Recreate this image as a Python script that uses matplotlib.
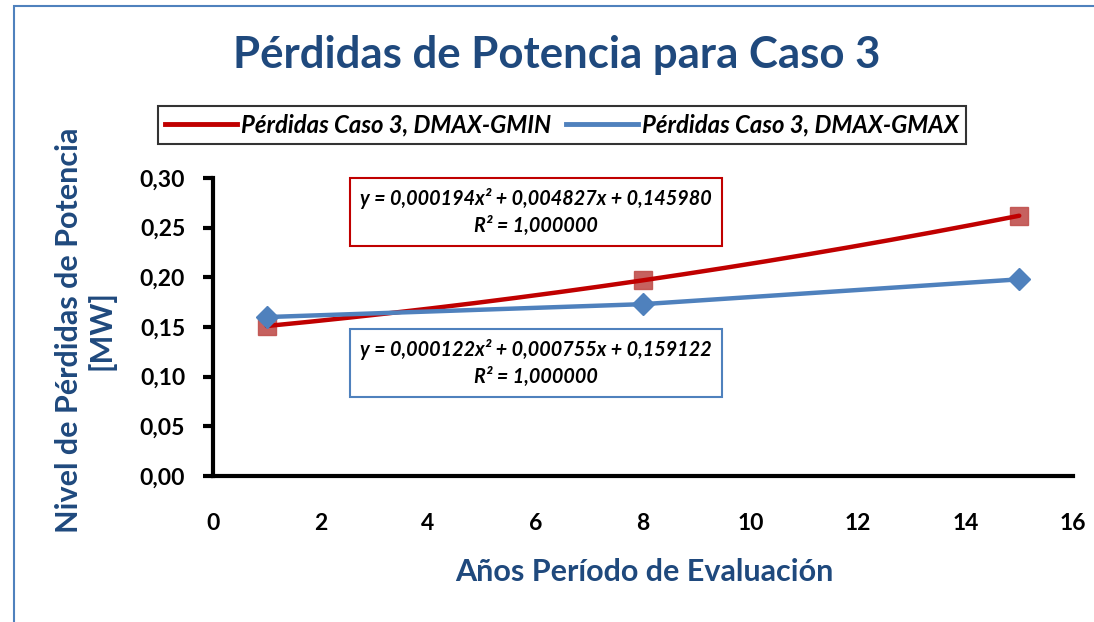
import numpy as np
import matplotlib
matplotlib.use("Agg")
import matplotlib.pyplot as plt
from matplotlib.patches import Rectangle
from matplotlib.lines import Line2D

plt.rcParams['font.family'] = ['Lato', 'DejaVu Sans']

# Data
years = [1, 8, 15]
loss_gmin = [0.151, 0.197, 0.262]   # DMAX-GMIN
loss_gmax = [0.160, 0.173, 0.198]   # DMAX-GMAX

# Quadratic trend coefficients (a, b, c) for y = a x^2 + b x + c
coef_gmin = [0.000194, 0.004827, 0.145980]
coef_gmax = [0.000122, 0.000755, 0.159122]

x_ticks = [0, 2, 4, 6, 8, 10, 12, 14, 16]
y_ticks = [0.00, 0.05, 0.10, 0.15, 0.20, 0.25, 0.30]

title = "Pérdidas de Potencia para Caso 3"
label_gmin = "Pérdidas Caso 3, DMAX-GMIN"
label_gmax = "Pérdidas Caso 3, DMAX-GMAX"
xlabel = "Años Período de Evaluación"
ylabel = "Nivel de Pérdidas de Potencia\n[MW]"

navy = "#1f497d"
red_line = "#c00000"
red_marker = "#c0504d"
blue = "#4f81bd"

fig = plt.figure(figsize=(10.94, 6.22), dpi=100)
W, H = 1094, 622

# Chart frame
fig.patches.append(Rectangle((14 / W, -0.1), 1.2, 1 - 6 / H + 0.1,
                             transform=fig.transFigure, fill=False,
                             edgecolor=blue, linewidth=1.5))

ax = fig.add_axes([213 / W, 1 - 476 / H, (1073 - 213) / W, (476 - 178) / H])

# Trend curve and points, DMAX-GMIN
xs = np.linspace(years[0], years[-1], 200)
ax.plot(xs, np.polyval(coef_gmin, xs), color=red_line, lw=3.2, zorder=3,
        solid_capstyle='round')
ax.plot(years, loss_gmin, linestyle='none', marker='s', markersize=13,
        color=red_marker, alpha=0.9, zorder=2)

# Series line, DMAX-GMAX
ax.plot(years, loss_gmax, color=blue, lw=3.2, marker='D', markersize=11,
        markerfacecolor=blue, markeredgecolor=blue, zorder=4)

ax.set_xlim(x_ticks[0], x_ticks[-1])
ax.set_ylim(y_ticks[0], y_ticks[-1])
ax.set_xticks(x_ticks)
ax.set_xticklabels([str(v) for v in x_ticks])
ax.set_yticks(y_ticks)
ax.set_yticklabels([f"{v:.2f}".replace('.', ',') for v in y_ticks])

for s in ['top', 'right']:
    ax.spines[s].set_visible(False)
for s in ['left', 'bottom']:
    ax.spines[s].set_linewidth(3)
    ax.spines[s].set_color('black')

ax.tick_params(axis='y', direction='out', length=7, width=3, pad=13,
               labelsize=16.5)
ax.tick_params(axis='x', length=0, pad=27, labelsize=16.5)
for lab in ax.get_xticklabels() + ax.get_yticklabels():
    lab.set_fontweight('bold')

# Equation boxes
def fmt(v):
    return f"{v:.6f}".replace('.', ',')

eq_gmin = (f"y = {fmt(coef_gmin[0])}x² + {fmt(coef_gmin[1])}x + {fmt(coef_gmin[2])}\n"
           f"R² = {fmt(1.0)}")
eq_gmax = (f"y = {fmt(coef_gmax[0])}x² + {fmt(coef_gmax[1])}x + {fmt(coef_gmax[2])}\n"
           f"R² = {fmt(1.0)}")

for txt, yc, ec in [(eq_gmin, 212, red_line), (eq_gmax, 363, blue)]:
    fig.text(536 / W, 1 - yc / H, txt, ha='center', va='center',
             fontsize=14.2, fontweight='bold', fontstyle='italic',
             linespacing=1.45,
             bbox=dict(boxstyle='square,pad=0.5', facecolor='white',
                       edgecolor=ec, linewidth=1.5))

# Title and axis labels
fig.text(557 / W, 1 - 55 / H, title, ha='center', va='center',
         fontsize=31.5, fontweight='bold', color=navy)
fig.text(644 / W, 1 - 572 / H, xlabel, ha='center', va='center',
         fontsize=22, fontweight='bold', color=navy)
fig.text(85 / W, 1 - 330 / H, ylabel, ha='center', va='center',
         rotation=90, fontsize=22, fontweight='bold', color=navy,
         linespacing=1.15)

# Legend
handles = [Line2D([], [], color=red_line, lw=3.5),
           Line2D([], [], color=blue, lw=3.5)]
leg = fig.legend(handles, [label_gmin, label_gmax], loc='center',
                 bbox_to_anchor=(562 / W, 1 - 125 / H), ncol=2,
                 frameon=True, fancybox=False, handlelength=3.0,
                 handletextpad=0.2, columnspacing=0.6, borderpad=0.3,
                 prop=dict(weight='bold', style='italic', size=17.2))
leg.get_frame().set_edgecolor('black')
leg.get_frame().set_linewidth(1.5)

fig.savefig("out.png", dpi=100)
